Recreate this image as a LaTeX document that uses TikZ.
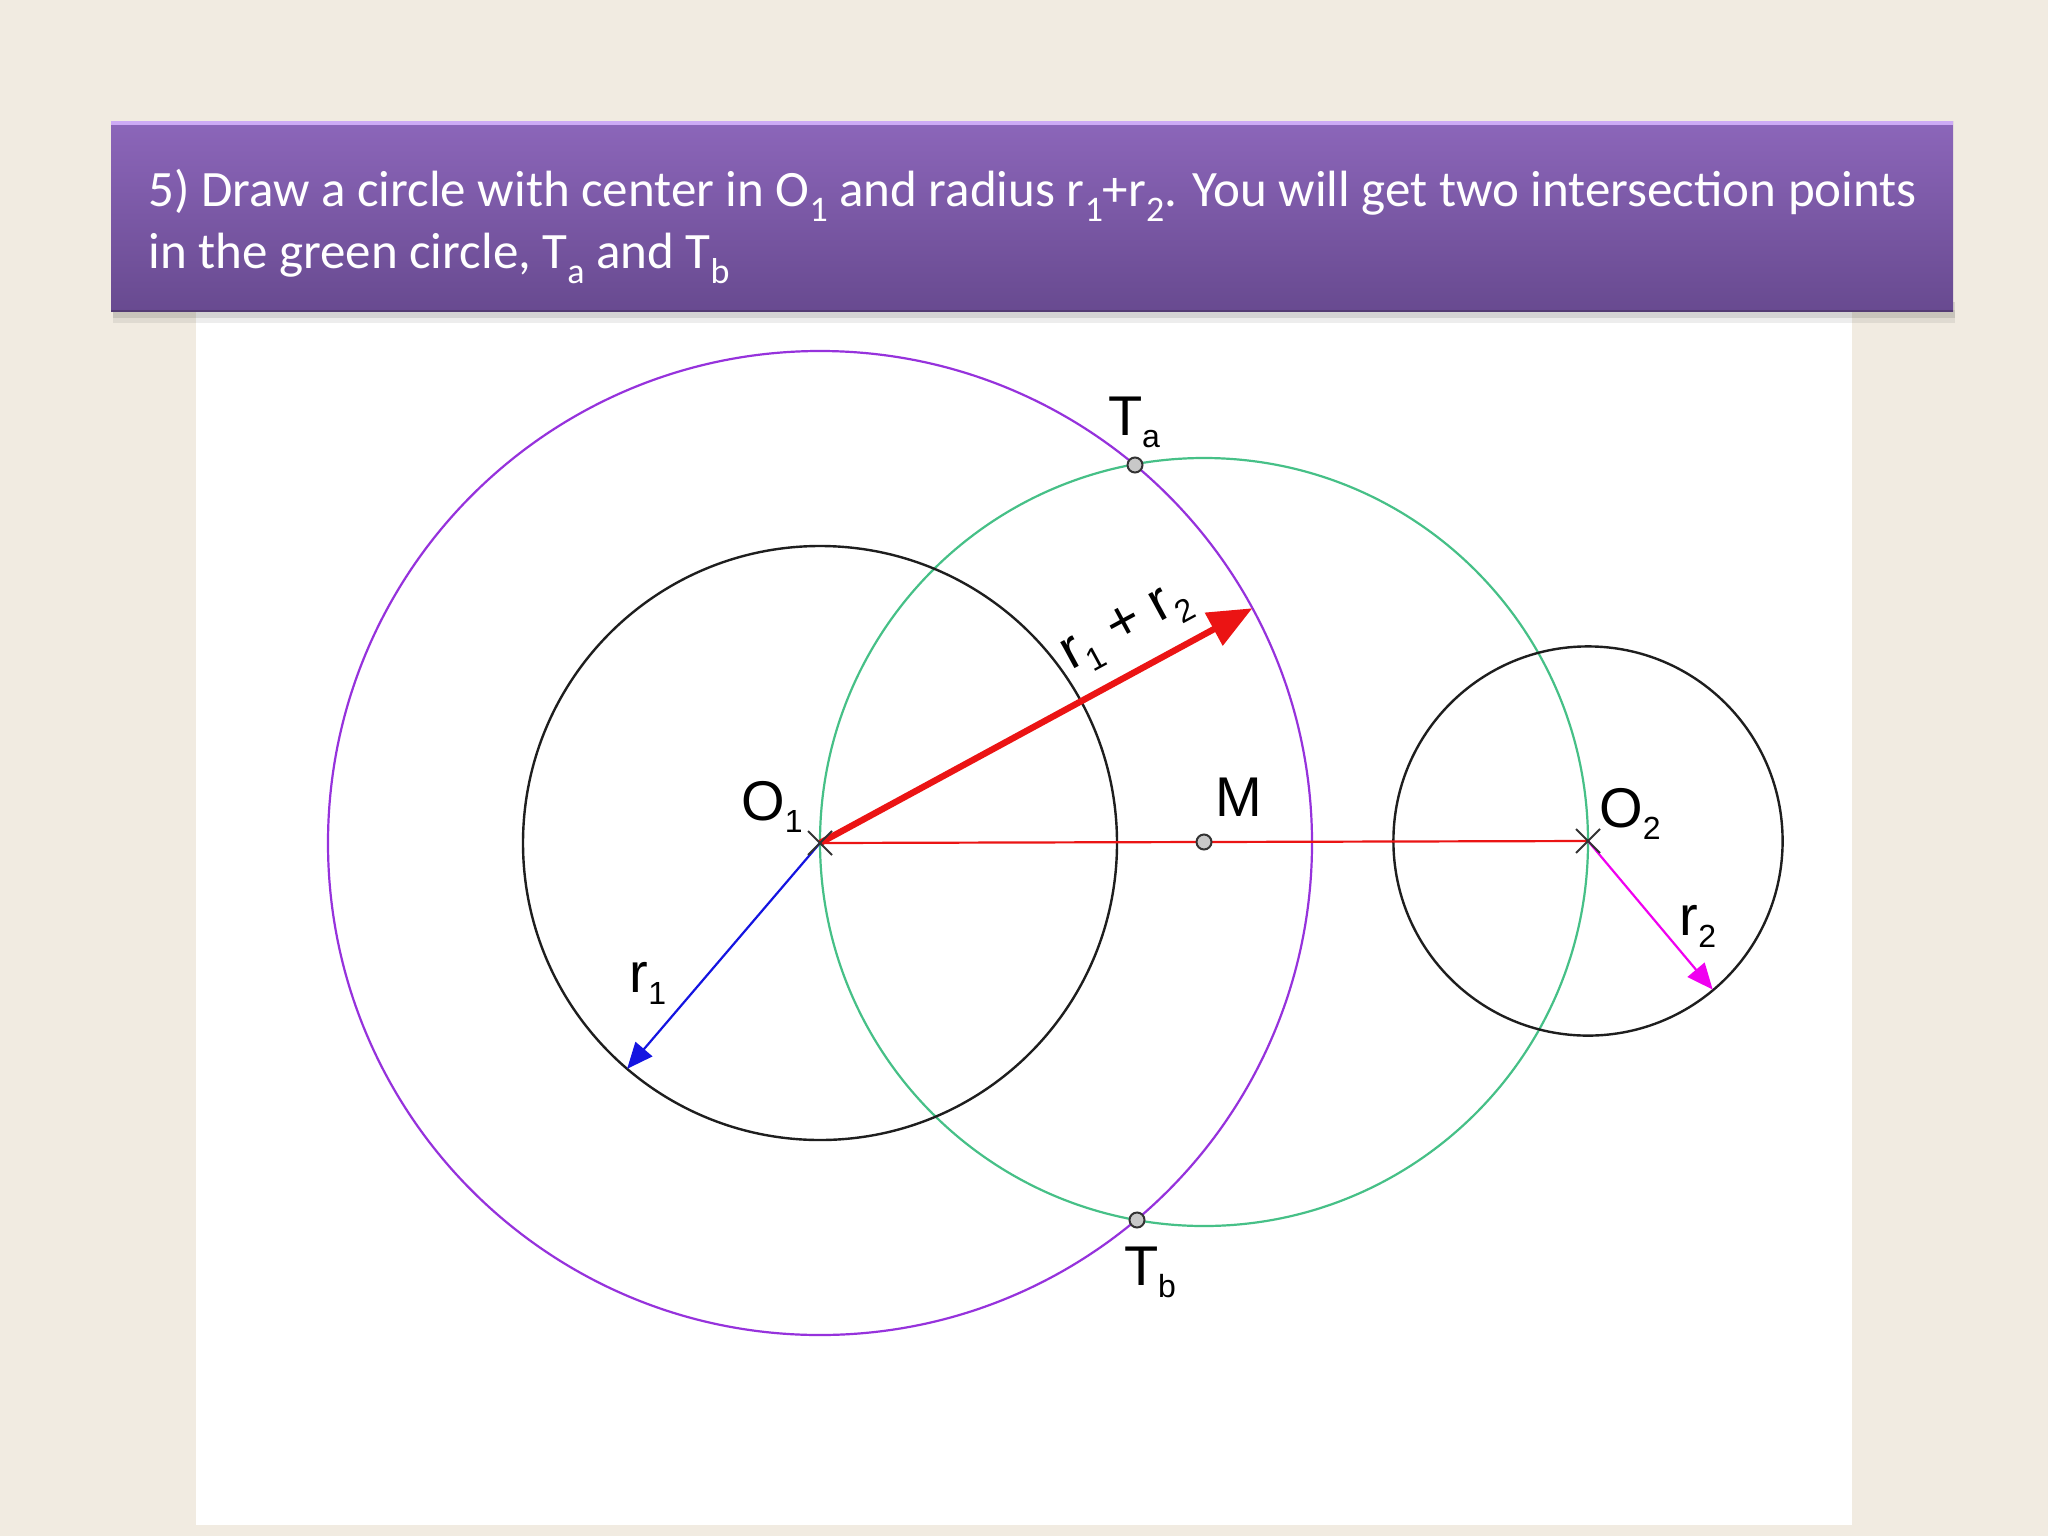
\documentclass[tikz,border=0pt]{standalone}
\usepackage{fontspec}
\setmainfont{Carlito}
\newfontfamily\labfont{Liberation Sans}
\usetikzlibrary{calc,arrows.meta,shadows}
\definecolor{bgcol}{RGB}{241,235,225}
\definecolor{bantop}{RGB}{140,102,186}
\definecolor{banbot}{RGB}{104,74,144}
\definecolor{banhi}{RGB}{205,170,245}
\definecolor{greencirc}{RGB}{70,192,135}
\definecolor{purpcirc}{RGB}{150,50,220}
\definecolor{blackcirc}{RGB}{30,30,30}
\definecolor{redline}{RGB}{235,20,20}
\definecolor{bluearrow}{RGB}{20,20,225}
\definecolor{magarrow}{RGB}{240,0,240}
\definecolor{ptfill}{RGB}{200,200,200}
\newcommand{\bsub}[1]{\raisebox{-0.3em}{\fontsize{18}{18}\selectfont #1}}
\newcommand{\lsub}[1]{\raisebox{-6pt}{\fontsize{16}{16}\selectfont #1}}
\tikzset{
  lab/.style={font=\labfont\fontsize{28}{28}\selectfont, text=black, inner sep=0pt},
  bantext/.style={anchor=base west, text=white, font=\fontsize{25.5}{25.5}\selectfont, inner sep=0pt},
  ptdot/.style={circle, draw=black!80, fill=ptfill, line width=1pt, minimum size=7.5pt, inner sep=0pt},
  crossmark/.style={line width=1pt, draw=black!80},
}
\begin{document}
\begin{tikzpicture}[x=0.5pt,y=-0.5pt]
\useasboundingbox (0,0) rectangle (2048,1536);
\fill[bgcol] (0,0) rectangle (2048,1536);
% white panel
\fill[white] (196,311) rectangle (1852,1525);
% banner shadow
\fill[black,opacity=0.10] (113,302) rectangle (1955,318);
\fill[black,opacity=0.07] (113,310) rectangle (1955,323);
% banner
\shade[top color=bantop, bottom color=banbot] (111,121) rectangle (1953,311);
\fill[banhi] (111,121) rectangle (1953,125);
\draw[banbot!80!black, line width=1pt] (111,311) -- (1953,311);
\node[bantext] (line1) at (148,206) {5) Draw a circle with center in O\bsub{1} and radius r\bsub{1}+r\bsub{2}. You will get two intersection points};
\node[bantext] (line2) at (148,268) {in the green circle, T\bsub{a} and T\bsub{b}};

% centers
\coordinate (O1) at (820,843);
\coordinate (O2) at (1588,841);
\coordinate (M) at (1204,842);
\coordinate (Ta) at (1135,465);
\coordinate (Tb) at (1137,1220);

% circles
\draw[purpcirc, line width=1.1pt] (O1) circle[radius=246pt];
\draw[greencirc, line width=1.1pt] (M) circle[radius=192pt];
\draw[blackcirc, line width=1.2pt] (O1) circle[radius=148.5pt];
\draw[blackcirc, line width=1.2pt] (O2) circle[radius=97.3pt];

% connecting red line
\draw[redline, line width=1.1pt] (O1) -- (O2);

% arrows
\coordinate (bigtip) at ($(O1)+(28.5:246pt)$);
\coordinate (r1tip) at ($(O1)+(-130.5:148.5pt)$);
\coordinate (r2tip) at ($(O2)+(-50:97pt)$);
\draw[redline, line width=3.2pt, -{Triangle[length=22pt,width=18pt]}] (O1) -- (bigtip);
\draw[bluearrow, line width=1.1pt, -{Triangle[length=13pt,width=11pt]}] (O1) -- (r1tip);
\draw[magarrow, line width=1.1pt, -{Triangle[length=13pt,width=11pt]}] (O2) -- (r2tip);

% cross marks
\draw[crossmark] ($(O1)+(-6pt,-6pt)$) -- ($(O1)+(6pt,6pt)$);
\draw[crossmark] ($(O1)+(-6pt,6pt)$) -- ($(O1)+(6pt,-6pt)$);
\draw[crossmark] ($(O2)+(-6pt,-6pt)$) -- ($(O2)+(6pt,6pt)$);
\draw[crossmark] ($(O2)+(-6pt,6pt)$) -- ($(O2)+(6pt,-6pt)$);

% points
\node[ptdot] (pTa) at (Ta) {};
\node[ptdot] (pTb) at (Tb) {};
\node[ptdot] (pM) at (M) {};

% labels
\node[lab] (lTa) at (1134,422) {T\lsub{a}};
\node[lab] (lTb) at (1150,1272) {T\lsub{b}};
\node[lab] (lO1) at (772,807) {O\lsub{1}};
\node[lab] (lM) at (1239,797) {M};
\node[lab] (lO2) at (1630,814) {O\lsub{2}};
\node[lab] (lr1) at (648,983) {r\lsub{1}};
\node[lab] (lr2) at (1698,926) {r\lsub{2}};
\node[lab, rotate=28.5] (lsum) at (1127,629) {r\lsub{1} + r\lsub{2}};
\end{tikzpicture}
\end{document}
